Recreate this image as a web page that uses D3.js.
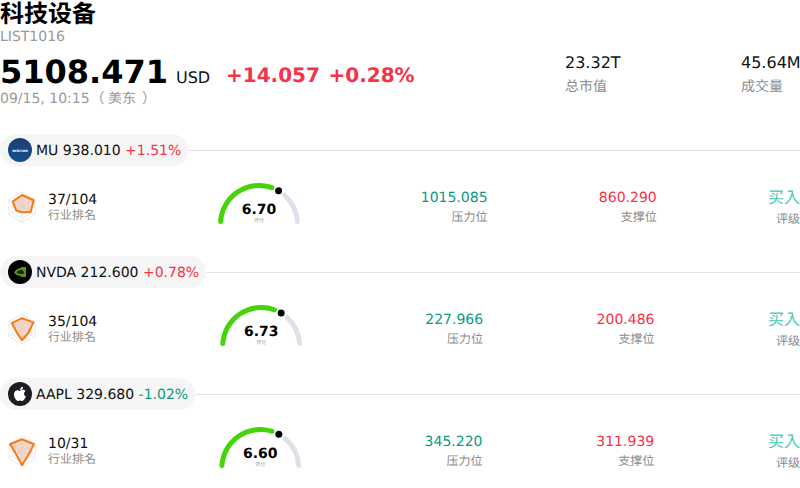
<!DOCTYPE html>
<html>
<head>
<meta charset="utf-8">
<script src="https://cdn.jsdelivr.net/npm/d3@7"></script>
<style>
  html, body { margin: 0; padding: 0; background: #fff; }
  svg { display: block; }
  text { font-family: "DejaVu Sans", "Noto Sans CJK TC", sans-serif; text-rendering: geometricPrecision; }
</style>
</head>
<body>
<div id="chart"></div>
<script>
// header
var title = "科技设备";
var code = "LIST1016";
var lastPrice = "5108.471";
var currency = "USD";
var change = "+14.057";
var changePct = "+0.28%";
var stampTime = "09/15, 10:15";
var stampZone = "美东";
var marketCap = "23.32T";
var volume = "45.64M";

// rows
var tickers = ["MU", "NVDA", "AAPL"];
var prices = ["938.010", "212.600", "329.680"];
var pcts = ["+1.51%", "+0.78%", "-1.02%"];
var ranks = ["37/104", "35/104", "10/31"];
var scores = [6.70, 6.73, 6.60];
var resistance = ["1015.085", "227.966", "345.220"];
var support = ["860.290", "200.486", "311.939"];
var ratings = ["买入", "买入", "买入"];

// radar values, clockwise from the top
var radarAxes = ["a", "b", "c", "d", "e", "f"];
var radarValues = [
  [0.8, 0.9, 0.67, 0.35, 0.45, 0.72],
  [0.72, 0.88, 0.5, 0.75, 0.42, 0.78],
  [0.78, 0.92, 0.5, 0.95, 0.45, 0.92]
];

var w = 800, h = 488;
var red = "#f5334a", green = "#0a9b7f", teal = "#3fcabb", grey = "#8c8c8c", ink = "#111";

var svg = d3.select("#chart").append("svg")
  .attr("width", w)
  .attr("height", h);

function label(g, x, y, str, size, color, anchor, weight) {
  return g.append("text")
    .attr("x", x)
    .attr("y", y)
    .attr("font-size", size)
    .attr("fill", color)
    .attr("text-anchor", anchor || "start")
    .attr("font-weight", weight || "normal")
    .text(str);
}

// measure a string so the row columns can be spaced like a flex row
function textWidth(str, size) {
  var t = svg.append("text").attr("font-size", size).text(str);
  var n = t.node().getComputedTextLength();
  t.remove();
  return n;
}

// header
label(svg, 0, 22, title, 24, "#000", "start", "bold");
label(svg, 0, 41, code, 14, "#999");
label(svg, 0, 83, lastPrice, 32, "#000", "start", "bold");
label(svg, 176, 83, currency, 16, ink);
label(svg, 226, 82, change, 20, red, "start", "bold");
label(svg, 328.5, 82, changePct, 20, red, "start", "bold");
var stampText = label(svg, 0, 103, stampTime, 14, "#999");
stampText.append("tspan").attr("dx", 1).text("（");
stampText.append("tspan").attr("dx", 3.5).text(stampZone);
stampText.append("tspan").attr("dx", 6).text("）");
label(svg, 565, 68, marketCap, 16, ink);
label(svg, 565, 91, "总市值", 14, grey);
label(svg, 741, 68, volume, 16, ink);
label(svg, 741, 91, "成交量", 14, grey);

var rowY = d3.scalePoint().domain(d3.range(tickers.length)).range([150, 394]);

// gauge runs over a half circle
var gaugeAngle = d3.scaleLinear().domain([0, 10]).range([-Math.PI / 2, Math.PI / 2]);
var gaugeR = 38.5, gaugeW = 5;
var gaugeArc = d3.arc()
  .innerRadius(gaugeR - gaugeW / 2)
  .outerRadius(gaugeR + gaugeW / 2)
  .cornerRadius(gaugeW / 2);

// radar
var radarR = d3.scaleLinear().domain([0, 1]).range([0, 15]);
var radarA = d3.scalePoint().domain(radarAxes).range([0, Math.PI * 2 * 5 / 6]);
var radarLine = d3.lineRadial().curve(d3.curveLinearClosed);
var micronFill = svg.append("defs").append("linearGradient")
  .attr("id", "mu-fill")
  .attr("x1", 0).attr("y1", 0).attr("x2", 0).attr("y2", 1);
micronFill.append("stop").attr("offset", 0).attr("stop-color", "#1b3f73");
micronFill.append("stop").attr("offset", 1).attr("stop-color", "#14508f");

function drawLogo(g, name) {
  var logo = g.append("g").attr("transform", "translate(20,0)");
  if (name === "MU") {
    logo.append("circle").attr("r", 12).attr("fill", "url(#mu-fill)");
    logo.append("text").attr("y", 1.5).attr("font-size", 4).attr("font-style", "italic")
      .attr("font-weight", "bold").attr("text-anchor", "middle").attr("fill", "#fff").text("micron");
  } else if (name === "NVDA") {
    logo.append("circle").attr("r", 12).attr("fill", "#000");
    logo.append("path")
      .attr("d", "M-6,0.5 C-4,-3 -1,-4 1,-4 L1,-5 L6,-5 L6,5 L1,5 L1,4 C-2,4 -4.5,2.5 -6,0.5 Z")
      .attr("fill", "#5f8f1c");
    logo.append("path")
      .attr("d", "M-3.5,0.5 C-2,-1.5 0,-2 1.5,-2 C3,-2 3.5,0 4.5,1 C3,2.5 0,2.5 -3.5,0.5 Z")
      .attr("fill", "#12240a");
  } else {
    logo.append("circle").attr("r", 12).attr("fill", "#1c1e22");
    logo.append("path")
      .attr("d", "M0,-3 C-2,-4.5 -6,-4 -6,0.5 C-6,4 -3.5,7 -2,7 C-1,7 -0.8,6.4 0,6.4 C0.8,6.4 1,7 2,7 C3.5,7 5.2,4.6 6,2.6 C3.6,1.6 3.4,-2 5.6,-3 C4,-5 1.5,-4.4 0,-3 Z M0,-3.8 C0,-5.6 1.4,-7 3,-7.2 C3.2,-5.4 1.8,-3.8 0,-3.8 Z")
      .attr("fill", "#fff");
  }
}

tickers.forEach(function (name, i) {
  var g = svg.append("g").attr("transform", "translate(0," + rowY(i) + ")");
  var up = pcts[i].charAt(0) === "+";

  // pill header and rule
  var head = name + " " + prices[i];
  var headW = textWidth(head, 14);
  var spaceW = 4.45;
  var pillW = 36 + headW + spaceW + textWidth(pcts[i], 14) + 7;
  g.append("line")
    .attr("x1", pillW).attr("x2", w)
    .attr("y1", 0.5).attr("y2", 0.5)
    .attr("stroke", "#e1e1ec");
  g.append("rect")
    .attr("y", -16)
    .attr("width", pillW).attr("height", 32)
    .attr("rx", 16)
    .attr("fill", "#f5f5f6");
  drawLogo(g, name);
  label(g, 36, 5, head, 14, ink);
  label(g, 36 + headW + spaceW, 5, pcts[i], 14, up ? red : green);

  // five columns spread with equal gaps
  var rankW = 48 + Math.max(textWidth(ranks[i], 14), 48);
  var gaugeBox = 101;
  var resW = textWidth(resistance[i], 14);
  var supW = textWidth(support[i], 14);
  var rateW = 32;
  var gap = (w - rankW - gaugeBox - resW - supW - rateW) / 4;
  var gaugeX = rankW + gap + gaugeBox / 2;
  var resX = rankW + gap * 2 + gaugeBox + resW;
  var supX = resX + gap + supW;

  // radar
  var radar = g.append("g").attr("transform", "translate(22,57)");
  [1, 0.75, 0.5, 0.25].forEach(function (level) {
    radar.append("path")
      .attr("d", radarLine(radarAxes.map(function (a) { return [radarA(a), radarR(level)]; })))
      .attr("fill", "none")
      .attr("stroke", "#e2e2ea")
      .attr("stroke-width", 0.8);
  });
  radarAxes.forEach(function (a) {
    radar.append("path")
      .attr("d", d3.lineRadial()([[radarA(a), 0], [radarA(a), radarR(1)]]))
      .attr("stroke", "#e2e2ea")
      .attr("stroke-width", 0.6);
  });
  radar.append("path")
    .attr("d", radarLine(radarAxes.map(function (a, k) { return [radarA(a), radarR(radarValues[i][k])]; })))
    .attr("fill", "#e8a27a")
    .attr("fill-opacity", 0.4)
    .attr("stroke", "#f47a14")
    .attr("stroke-width", 2)
    .attr("stroke-linejoin", "round");

  label(g, 48, 54, ranks[i], 14, ink);
  label(g, 48, 69, "行业排名", 12, grey);

  // gauge
  var gauge = g.append("g").attr("transform", "translate(" + gaugeX + ",74)");
  var dotA = gaugeAngle(scores[i]);
  var arcGap = 0.13;
  gauge.append("path")
    .attr("d", gaugeArc({ startAngle: dotA + arcGap, endAngle: gaugeAngle(10) }))
    .attr("fill", "#e0e0ea");
  gauge.append("path")
    .attr("d", gaugeArc({ startAngle: gaugeAngle(0), endAngle: dotA - arcGap }))
    .attr("fill", "#44d40a");
  gauge.append("circle")
    .attr("cx", gaugeR * Math.sin(dotA))
    .attr("cy", -gaugeR * Math.cos(dotA))
    .attr("r", 3.5)
    .attr("fill", "#000");
  label(gauge, 0, -10, d3.format(".2f")(scores[i]), 14, "#000", "middle", "bold");
  label(gauge, 0, -2, "评分", 5, "#999", "middle");

  // levels and rating
  label(g, resX, 52, resistance[i], 14, green, "end");
  label(g, resX, 71, "压力位", 12, grey, "end");
  label(g, supX, 52, support[i], 14, red, "end");
  label(g, supX, 71, "支撑位", 12, grey, "end");
  label(g, w, 53, ratings[i], 16, teal, "end");
  label(g, w, 73, "评级", 12, grey, "end");
});
</script>
</body>
</html>
